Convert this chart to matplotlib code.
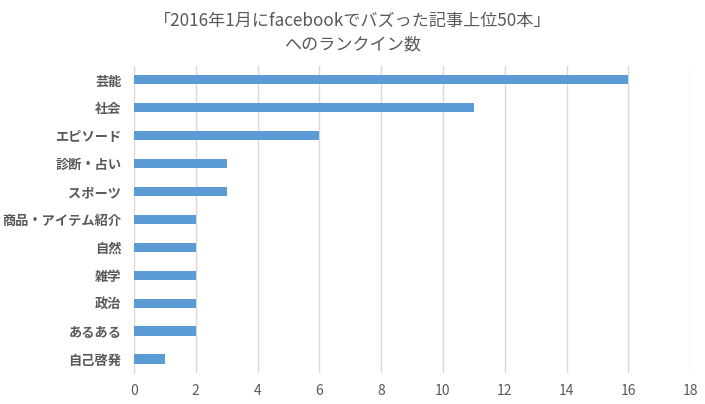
import matplotlib
matplotlib.use("Agg")
import matplotlib.pyplot as plt

categories = ['芸能', '社会', 'エピソード', '診断・占い', 'スポーツ', '商品・アイテム紹介',
              '自然', '雑学', '政治', 'あるある', '自己啓発']
counts = [16, 11, 6, 3, 3, 2, 2, 2, 2, 2, 1]
x_ticks = [0, 2, 4, 6, 8, 10, 12, 14, 16, 18]

plt.rcParams['font.family'] = ['Noto Sans CJK JP', 'DejaVu Sans']

fig = plt.figure(figsize=(7.05, 4.04), dpi=100)
ax = fig.add_axes([0.190, 0.077, 0.789, 0.760])

y = list(range(len(categories)))
ax.barh(y, counts, height=0.33, color='#5B9BD5', zorder=3)
ax.set_ylim(len(categories) - 0.5, -0.5)
ax.set_xlim(0, 18)
ax.set_xticks(x_ticks)
ax.set_yticks(y)
ax.set_yticklabels(categories, fontsize=9.5, fontweight='bold', color='#595959')
for lab in ax.get_xticklabels():
    lab.set_fontsize(10)
    lab.set_color('#595959')

ax.grid(axis='x', color='#D9D9D9', linewidth=1, zorder=0)
for s in ['top', 'right', 'bottom']:
    ax.spines[s].set_visible(False)
ax.spines['left'].set_color('#D9D9D9')
ax.tick_params(axis='both', length=0)
ax.tick_params(axis='x', pad=8)
ax.tick_params(axis='y', pad=9)

fig.text(0.5, 0.948, '「2016年1月にfacebookでバズった記事上位50本」', ha='center', va='center',
         fontsize=12.3, color='#595959')
fig.text(0.5, 0.891, 'へのランクイン数', ha='center', va='center', fontsize=12.3, color='#595959')

fig.savefig('out.png', dpi=100)
